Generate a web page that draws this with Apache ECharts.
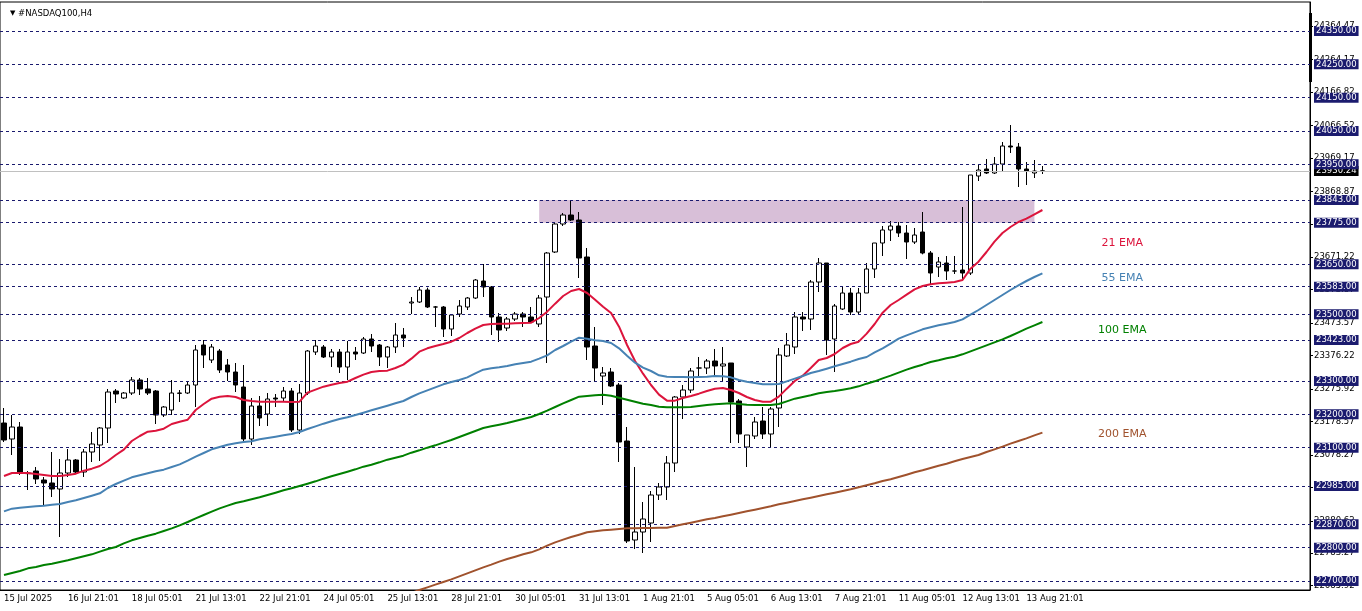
<!DOCTYPE html>
<html><head><meta charset="utf-8">
<script src="https://cdn.jsdelivr.net/npm/echarts@6/dist/echarts.min.js"></script>
<style>html,body{margin:0;padding:0;background:#fff}#c{width:1362px;height:611px}</style>
</head><body><div id="c"></div>
<script>
// ---- data (H4 bars, NASDAQ100) ----
const tickLabels = ['15 Jul 2025','16 Jul 21:01','18 Jul 05:01','21 Jul 13:01','22 Jul 21:01','24 Jul 05:01','25 Jul 13:01','28 Jul 21:01','30 Jul 05:01','31 Jul 13:01','1 Aug 21:01','5 Aug 05:01','6 Aug 13:01','7 Aug 21:01','11 Aug 05:01','12 Aug 13:01','13 Aug 21:01'];
const opens = [23174,23126,23162,23024,23030,23003,22994,22976,23024,23063,23027,23087,23108,23159,23270,23249,23264,23303,23276,23270,23198,23213,23264,23264,23288,23408,23363,23390,23348,23327,23282,23126,23225,23201,23249,23249,23270,23153,23264,23387,23402,23372,23387,23342,23387,23384,23426,23408,23372,23402,23438,23534,23537,23573,23522,23522,23456,23501,23522,23549,23600,23582,23492,23459,23486,23501,23492,23471,23552,23687,23771,23798,23783,23672,23405,23315,23327,23288,23120,22823,22847,22874,22958,22982,23054,23252,23273,23339,23339,23360,23345,23354,23240,23102,23135,23180,23141,23219,23375,23402,23492,23486,23597,23654,23426,23516,23564,23507,23564,23636,23714,23753,23765,23744,23717,23747,23684,23642,23654,23630,23633,23624,23915,23936,23924,23951,24005,24002,23936,23924,23930];
const highs = [23219,23198,23177,23030,23042,23012,23087,23066,23096,23066,23096,23147,23162,23276,23276,23267,23312,23309,23309,23273,23225,23303,23273,23300,23408,23423,23411,23396,23366,23354,23348,23249,23255,23264,23261,23282,23279,23291,23393,23423,23408,23396,23396,23420,23402,23432,23441,23411,23405,23474,23459,23552,23582,23580,23525,23525,23500,23543,23552,23606,23651,23585,23504,23492,23507,23507,23522,23558,23687,23777,23804,23843,23807,23699,23462,23342,23339,23294,23162,23042,22937,22970,22994,23075,23255,23288,23339,23372,23366,23396,23402,23354,23246,23138,23192,23222,23222,23399,23444,23507,23507,23603,23669,23654,23531,23582,23579,23579,23654,23714,23765,23780,23777,23768,23759,23807,23690,23672,23675,23675,23822,23918,23948,23966,23972,24017,24068,24014,23957,23963,23945];
const lows = [23117,23078,23018,22973,22991,22928,22952,22832,23012,23024,23012,23057,23060,23114,23234,23246,23258,23258,23258,23171,23192,23198,23237,23261,23222,23339,23354,23324,23300,23267,23117,23108,23165,23165,23222,23240,23147,23141,23258,23378,23369,23342,23324,23303,23363,23381,23387,23345,23339,23384,23402,23501,23534,23519,23462,23432,23435,23492,23513,23546,23552,23438,23417,23450,23480,23462,23474,23462,23354,23684,23765,23780,23609,23363,23300,23228,23282,23057,22814,22796,22784,22817,22943,22943,23027,23186,23264,23312,23321,23318,23297,23114,23114,23042,23126,23126,23102,23162,23372,23381,23450,23453,23567,23378,23327,23513,23498,23498,23564,23609,23675,23720,23732,23666,23711,23680,23588,23612,23603,23621,23603,23618,23900,23921,23921,23930,23984,23882,23888,23909,23921];
const closes = [23123,23162,23024,23022,23006,22994,22976,23024,23063,23027,23087,23111,23159,23267,23261,23264,23303,23276,23264,23198,23222,23264,23263,23288,23393,23378,23402,23333,23327,23288,23126,23225,23189,23246,23246,23270,23153,23264,23390,23405,23372,23387,23342,23387,23381,23426,23405,23372,23402,23438,23429,23537,23573,23522,23522,23456,23498,23525,23549,23603,23582,23492,23453,23486,23501,23492,23477,23549,23684,23771,23798,23783,23669,23402,23339,23324,23285,23117,22820,22847,22886,22958,22982,23054,23252,23273,23330,23339,23360,23345,23351,23237,23141,23138,23177,23141,23216,23378,23408,23492,23486,23597,23654,23423,23525,23564,23507,23564,23636,23714,23753,23765,23744,23717,23738,23684,23624,23657,23630,23630,23624,23918,23933,23924,23951,24005,24002,23936,23930,23930,23930.24];
const ema21 = [23015,23024,23024,23024,23021,23018,23015,23015,23018,23022,23031,23037,23045,23060,23078,23094,23120,23135,23148,23151,23157,23171,23178,23184,23213,23231,23247,23253,23255,23252,23243,23240,23238,23238,23238,23238,23237,23238,23265,23274,23283,23289,23294,23298,23309,23319,23327,23330,23331,23339,23349,23367,23388,23398,23405,23411,23418,23429,23444,23457,23468,23471,23472,23472,23473,23474,23475,23489,23508,23532,23555,23570,23576,23564,23544,23523,23504,23463,23408,23360,23322,23288,23259,23241,23241,23249,23255,23262,23270,23277,23279,23273,23264,23252,23243,23238,23238,23253,23277,23300,23316,23339,23363,23369,23381,23399,23411,23418,23442,23471,23505,23528,23543,23559,23575,23585,23590,23593,23595,23597,23603,23637,23658,23687,23718,23744,23762,23777,23787,23800,23813];
const ema55 = [22909,22917,22920,22922,22924,22926,22929,22931,22937,22942,22949,22956,22963,22979,22991,23001,23011,23017,23023,23029,23034,23042,23050,23061,23073,23084,23095,23102,23109,23113,23117,23119,23125,23129,23133,23137,23141,23147,23156,23164,23172,23179,23186,23191,23198,23205,23212,23219,23226,23233,23240,23252,23263,23272,23281,23290,23297,23303,23311,23323,23334,23338,23341,23345,23350,23354,23358,23367,23377,23393,23405,23418,23430,23427,23422,23420,23414,23398,23376,23355,23340,23330,23317,23313,23312,23312,23311,23312,23313,23315,23314,23311,23303,23298,23294,23290,23290,23291,23299,23307,23315,23324,23330,23337,23344,23351,23358,23366,23372,23386,23398,23412,23427,23437,23446,23455,23461,23467,23472,23477,23485,23499,23513,23528,23543,23558,23573,23587,23600,23612,23623];
const ema100 = [22718,22724,22730,22738,22742,22748,22752,22757,22762,22768,22774,22780,22788,22796,22802,22813,22822,22829,22836,22842,22850,22858,22867,22877,22888,22898,22908,22918,22926,22934,22939,22945,22951,22958,22965,22972,22978,22985,22992,22999,23007,23014,23021,23028,23035,23043,23049,23056,23064,23070,23076,23085,23092,23100,23107,23115,23123,23132,23141,23150,23159,23164,23169,23174,23180,23186,23192,23201,23211,23222,23233,23243,23253,23255,23257,23259,23256,23250,23244,23238,23232,23228,23223,23221,23221,23221,23222,23225,23228,23230,23232,23233,23231,23229,23228,23228,23228,23231,23239,23247,23252,23257,23263,23267,23270,23274,23278,23284,23292,23299,23308,23316,23325,23334,23342,23349,23357,23362,23368,23373,23380,23389,23398,23407,23416,23425,23435,23446,23457,23467,23477];
const ema200 = [null,null,null,null,null,null,null,null,null,null,null,null,null,null,null,null,null,null,null,null,null,null,null,null,null,null,null,null,null,null,null,null,null,null,null,null,null,null,null,null,null,null,null,null,null,null,null,null,null,null,22655,22664,22673,22681,22689,22697,22705,22714,22723,22732,22741,22749,22758,22766,22773,22780,22786,22795,22806,22816,22824,22832,22839,22846,22849,22852,22854,22856,22858,22858,22859,22859,22860,22860,22865,22870,22875,22880,22885,22889,22894,22899,22904,22909,22914,22919,22924,22930,22935,22940,22945,22950,22955,22960,22965,22970,22975,22981,22987,22993,23000,23005,23012,23019,23026,23032,23039,23046,23052,23059,23066,23072,23078,23087,23095,23103,23112,23120,23128,23137,23145];
const levels = [24350,24250,24150,24050,23950,23843,23775,23650,23583,23500,23423,23300,23200,23100,22985,22870,22800,22700];
const scaleLabels = [24364.47,24264.17,24166.82,24066.52,23969.17,23868.87,23771.52,23671.22,23573.87,23473.57,23376.22,23275.92,23178.57,23078.27,22980.92,22880.62,22783.27,22685.92];
const currentPrice = 23930.24;
const zoneLow = 23775, zoneHigh = 23843, zoneStartBar = 67, zoneEndBar = 129;
const emaNames = ['21 EMA','55 EMA','100 EMA','200 EMA'];
const emaLabelValues = [23714,23609,23453,23141];
const emaLabelBar = 140;
const totalSlots = 164;
const yMin = 22673, yMax = 24437;

// ---- build ----
const cats = [];
for (let i = 0; i < totalSlots; i++) cats.push('b' + i);
const ohlc = opens.map((o, i) => [o, closes[i], lows[i], highs[i]]);
const FONT = 'DejaVu Sans';
const emaColors = ['#dc143c', '#4682b4', '#008000', '#a0522d'];
const emaData = [ema21, ema55, ema100, ema200];

const chart = echarts.init(document.getElementById('c'), null, {renderer: 'canvas'});
const emaSeries = emaData.map((d, k) => ({
  type: 'line', data: d, symbol: 'none', z: 6, silent: true,
  lineStyle: {color: emaColors[k], width: 2},
  markPoint: {
    symbol: 'rect', symbolSize: [1, 1], itemStyle: {color: 'rgba(0,0,0,0)'}, silent: true,
    data: [{coord: [emaLabelBar, emaLabelValues[k]]}],
    label: {show: true, position: 'inside', formatter: emaNames[k], color: emaColors[k], fontSize: 11, fontFamily: FONT}
  }
}));

const lineData = [{
  yAxis: currentPrice,
  lineStyle: {color: '#c0c0c0', type: 'solid', width: 1},
  label: {backgroundColor: '#000', color: '#fff'}
}].concat(levels.map(v => ({yAxis: v})));

chart.setOption({
  animation: false,
  backgroundColor: '#fff',
  title: {
    text: '{t|▼} #NASDAQ100,H4', left: 5, top: 4,
    textStyle: {fontFamily: FONT, fontSize: 8.5, fontWeight: 'normal', color: '#000',
      rich: {t: {fontSize: 7, color: '#000', fontFamily: FONT}}}
  },
  grid: {left: 0, right: 52, top: 2, bottom: 21, show: true, borderColor: '#000', borderWidth: 1, backgroundColor: '#fff'},
  xAxis: {
    type: 'category', data: cats, boundaryGap: true,
    axisLine: {lineStyle: {color: '#000', width: 1}},
    axisTick: {alignWithLabel: true, interval: 7, length: 4, lineStyle: {color: '#000'}},
    axisLabel: {interval: 7, align: 'left', margin: 4, color: '#000', fontFamily: FONT, fontSize: 8.5,
      formatter: (v, idx) => (idx % 8 === 0 && tickLabels[idx / 8]) ? tickLabels[idx / 8] : ''},
    splitLine: {show: false}
  },
  yAxis: {
    type: 'value', position: 'right', min: yMin, max: yMax, scale: true,
    axisLine: {show: true, lineStyle: {color: '#000', width: 1}},
    axisTick: {show: true, length: 3, customValues: scaleLabels, lineStyle: {color: '#000'}},
    axisLabel: {customValues: scaleLabels, margin: 4, color: '#000', fontFamily: FONT, fontSize: 8.5,
      formatter: v => v.toFixed(2)},
    splitLine: {show: false}
  },
  graphic: [{type: 'rect', shape: {x: 1309, y: 13, width: 3, height: 69}, style: {fill: '#000'}, silent: true}],
  series: [
    {
      type: 'line', data: [], z: 1, silent: true,
      markArea: {silent: true, itemStyle: {color: '#d8bfd8'},
        data: [[{xAxis: zoneStartBar, yAxis: zoneHigh}, {xAxis: zoneEndBar, yAxis: zoneLow}]]},
      markLine: {
        silent: true, symbol: 'none', animation: false,
        lineStyle: {color: '#1a1a6e', type: [3, 3], width: 1},
        label: {show: true, position: 'end', distance: 4, formatter: p => p.value.toFixed(2),
          backgroundColor: '#1b1b6e', color: '#fff', padding: [1, 2, 0, 2],
          fontFamily: FONT, fontSize: 8.5},
        data: lineData
      }
    },
    {
      type: 'candlestick', data: ohlc, z: 4, barWidth: 5, silent: true,
      itemStyle: {color: '#fff', color0: '#000', borderColor: '#000', borderColor0: '#000', borderWidth: 1}
    }
  ].concat(emaSeries)
});
</script></body></html>
